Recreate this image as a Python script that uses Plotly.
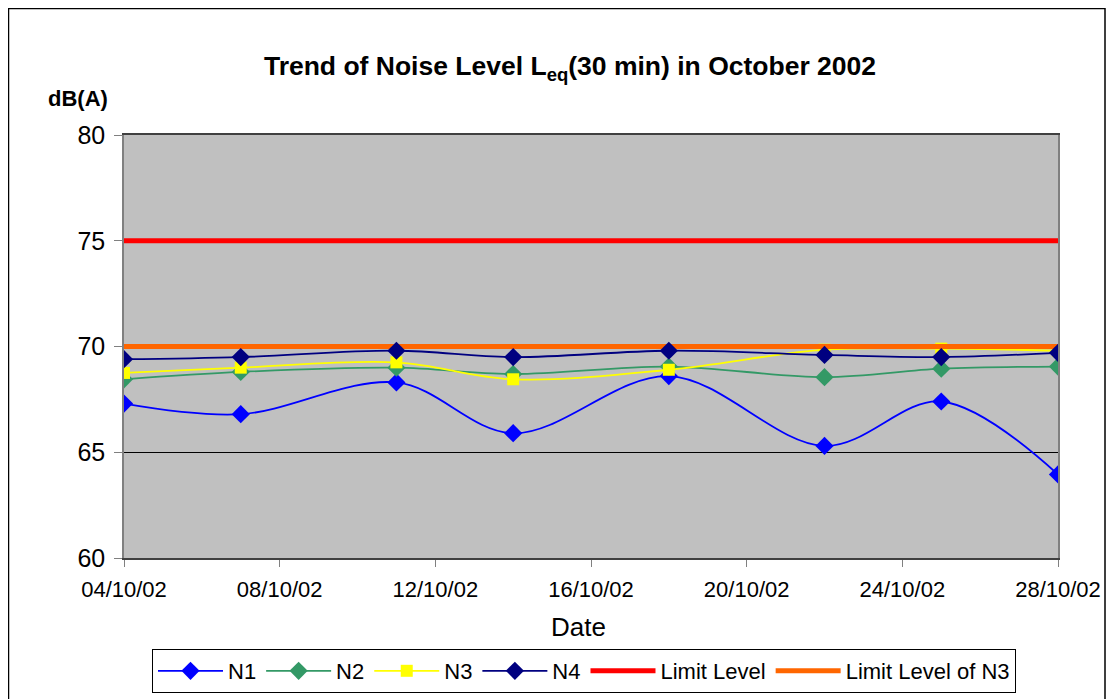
import plotly.graph_objects as go

dates = ["2002-10-04", "2002-10-07", "2002-10-11", "2002-10-14",
         "2002-10-18", "2002-10-22", "2002-10-25", "2002-10-28"]
n1 = [67.3, 66.8, 68.3, 65.9, 68.6, 65.3, 67.4, 63.95]
n2 = [68.45, 68.8, 69.0, 68.7, 69.05, 68.55, 68.95, 69.05]
n3 = [68.75, 69.0, 69.25, 68.45, 68.9, 69.85, 69.9, 69.8]
n4 = [69.4, 69.5, 69.8, 69.5, 69.8, 69.6, 69.5, 69.7]
limit_dates = ["2002-10-04", "2002-10-28"]
limit_level = [75, 75]
limit_level_n3 = [70, 70]

FONT = "Liberation Sans, Arial, sans-serif"

# page body has an 8px margin: figure is 1106x691 placed at (8, 8)
W, H = 1106, 691
OFF = 8

fig = go.Figure()

def series(name, y, color, symbol, rank):
    fig.add_trace(go.Scatter(
        x=dates, y=y, name=name, mode="lines+markers",
        line=dict(color=color, width=1.8, shape="spline", smoothing=1.0),
        marker=dict(symbol=symbol, size=14 if symbol == "diamond" else 12,
                    color=color, line=dict(width=0)),
        legendrank=rank))

series("N1", n1, "#0000FF", "diamond", 1)
series("N2", n2, "#339966", "diamond", 2)
series("N3", n3, "#FFFF00", "square", 3)

fig.add_trace(go.Scatter(x=limit_dates, y=limit_level, name="Limit Level",
                         mode="lines", line=dict(color="#FF0000", width=5),
                         legendrank=5))
fig.add_trace(go.Scatter(x=limit_dates, y=limit_level_n3, name="Limit Level of N3",
                         mode="lines", line=dict(color="#FF6600", width=5),
                         legendrank=6))

series("N4", n4, "#000080", "diamond", 4)

fig.update_layout(
    width=W, height=H,
    margin=dict(l=124 - OFF, r=W - (1058 - OFF), t=135 - OFF, b=H - (558 - OFF),
                autoexpand=False),
    paper_bgcolor="white",
    plot_bgcolor="#C0C0C0",
    font=dict(family=FONT, color="black"),
    title=dict(text="<b>Trend of Noise Level L<sub>eq</sub>(30 min) in October 2002</b>",
               x=(570 - OFF) / W, xref="container", xanchor="center",
               y=1 - (66 - OFF) / H, yref="container", yanchor="middle",
               font=dict(size=26.5, family=FONT, color="black")),
    showlegend=True,
    legend=dict(orientation="h", x=0.4925, xanchor="center", y=-(649 - 558) / 423,
                yanchor="top",
                bgcolor="white", bordercolor="black", borderwidth=1,
                font=dict(size=22, family=FONT), itemwidth=65,
                traceorder="normal"),
    hovermode=False,
)

fig.update_xaxes(
    type="date",
    range=["2002-10-04", "2002-10-28"],
    tick0="2002-10-04", dtick=4 * 86400000,
    tickformat="%d/%m/%y",
    ticks="outside", ticklen=7, tickcolor="#808080",
    showgrid=False, zeroline=False,
    showline=True, linecolor="#404040", linewidth=1.5, mirror=True,
    tickfont=dict(size=22, family=FONT),
    ticklabelstandoff=4,
)
fig.update_yaxes(
    range=[60, 80], dtick=5,
    ticks="outside", ticklen=8, tickcolor="#808080",
    showgrid=True, gridcolor="#000000", gridwidth=1,
    zeroline=False,
    showline=True, linecolor="#808080", linewidth=1.5, mirror=True,
    tickfont=dict(size=25, family=FONT),
    ticklabelstandoff=4,
)

fig.add_annotation(text="Date", xref="paper", yref="paper",
                   x=(578 - 124) / 934, y=(558 - 627) / 423,
                   xanchor="center", yanchor="middle", showarrow=False,
                   font=dict(size=26, family=FONT))
fig.add_annotation(text="<b>dB(A)</b>", xref="paper", yref="paper",
                   x=(78 - 124) / 934, y=(558 - 98) / 423,
                   xanchor="center", yanchor="middle", showarrow=False,
                   font=dict(size=22, family=FONT))

fig.add_shape(type="rect", xref="paper", yref="paper",
              x0=(8.5 - 124) / 934, x1=(1105 - 124) / 934,
              y0=(558 - 705) / 423, y1=(558 - 8.5) / 423,
              line=dict(color="#000000", width=1.5), fillcolor="rgba(0,0,0,0)",
              layer="below")

fig.write_html("out.html")
